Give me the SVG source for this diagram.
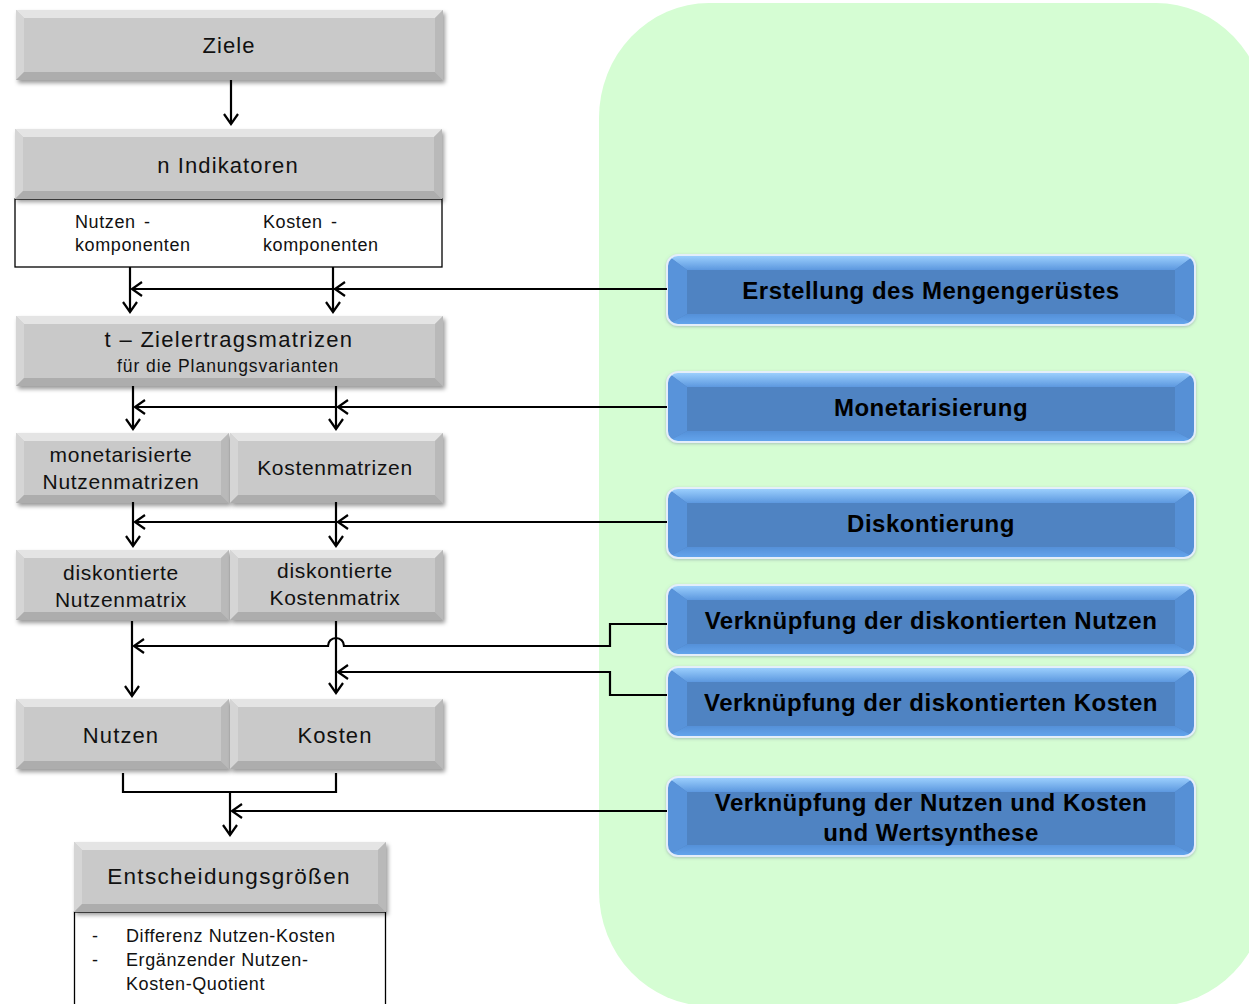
<svg xmlns="http://www.w3.org/2000/svg" xmlns:xlink="http://www.w3.org/1999/xlink" width="1249" height="1004" viewBox="0 0 1249 1004">
<style>
.gbody{fill:#c9c9c9}
.gt{fill:#e4e4e4}
.gl{fill:#d5d5d5}
.gr{fill:#b9b9b9}
.gbt{fill:#adadad}
.bbody{fill:#4f83c2}
.bt{fill:url(#btop)}
.bl{fill:#5993da}
.br{fill:#5690d6}
.bbt{fill:url(#bbot)}
.bedge{fill:none;stroke:#e4eef9;stroke-width:2}
.tx{font-family:"Liberation Sans",Arial,sans-serif;fill:#111}
.big{font-size:22px;letter-spacing:1.1px;text-anchor:middle}
.mid{font-size:21px;letter-spacing:0.7px;text-anchor:middle}
.ttl{font-size:22px;letter-spacing:1.3px;text-anchor:middle}
.ent{font-size:22.5px;letter-spacing:1.3px;text-anchor:middle}
.sm{font-size:18px;letter-spacing:0.6px}
.smc{font-size:17.5px;letter-spacing:0.95px;text-anchor:middle}
.bx{font-family:"Liberation Sans",Arial,sans-serif;font-weight:bold;font-size:24px;letter-spacing:0.5px;text-anchor:middle;fill:#000}
.wbox{fill:#fff;stroke:#000;stroke-width:1.3}
.con{fill:none;stroke:#000;stroke-width:2.2}
.arr{marker-end:url(#chev)}
</style>
<defs>
<marker id="chev" markerUnits="userSpaceOnUse" markerWidth="14" markerHeight="18" viewBox="-12 -9 14 18" refX="0" refY="0" orient="auto">
<path d="M-10,-7 L0,0 L-10,7" fill="none" stroke="#000" stroke-width="2.2"/>
</marker>
<linearGradient id="btop" x1="0" y1="0" x2="0" y2="1"><stop offset="0" stop-color="#9fd2ff"/><stop offset="1" stop-color="#5c98df"/></linearGradient>
<linearGradient id="bbot" x1="0" y1="0" x2="0" y2="1"><stop offset="0" stop-color="#5590d8"/><stop offset="1" stop-color="#64a6ee"/></linearGradient>
<filter id="sh" x="-5%" y="-15%" width="112%" height="140%">
<feDropShadow dx="2" dy="3" stdDeviation="2.2" flood-color="#000" flood-opacity="0.4"/>
</filter>
<filter id="bsh" x="-5%" y="-15%" width="112%" height="140%">
<feDropShadow dx="0" dy="1" stdDeviation="1.5" flood-color="#7a8a99" flood-opacity="0.5"/>
</filter>
<g id="g427">
<rect width="427" height="70" class="gbody"/>
<polygon class="gt" points="0,0 427,0 419,8 8,8"/>
<polygon class="gl" points="0,0 8,8 8,62 0,70"/>
<polygon class="gr" points="427,0 427,70 419,62 419,8"/>
<polygon class="gbt" points="0,70 427,70 419,62 8,62"/>
</g>
<g id="g213">
<rect width="213" height="70" class="gbody"/>
<polygon class="gt" points="0,0 213,0 205,8 8,8"/>
<polygon class="gl" points="0,0 8,8 8,62 0,70"/>
<polygon class="gr" points="213,0 213,70 205,62 205,8"/>
<polygon class="gbt" points="0,70 213,70 205,62 8,62"/>
</g>
<g id="g312">
<rect width="312" height="70" class="gbody"/>
<polygon class="gt" points="0,0 312,0 304,8 8,8"/>
<polygon class="gl" points="0,0 8,8 8,62 0,70"/>
<polygon class="gr" points="312,0 312,70 304,62 304,8"/>
<polygon class="gbt" points="0,70 312,70 304,62 8,62"/>
</g>
<clipPath id="bc70"><rect width="528" height="70" rx="11"/></clipPath>
<clipPath id="bc79"><rect width="528" height="79" rx="11"/></clipPath>
<g id="b70">
<g clip-path="url(#bc70)">
<rect width="528" height="70" class="bbody"/>
<polygon class="bt" points="0,0 528,0 508,15 20,15"/>
<polygon class="bl" points="0,0 20,15 20,59 0,70"/>
<polygon class="br" points="528,0 528,70 508,59 508,15"/>
<polygon class="bbt" points="0,70 528,70 508,59 20,59"/>
</g>
<rect width="528" height="70" rx="11" class="bedge"/>
</g>
<g id="b79">
<g clip-path="url(#bc79)">
<rect width="528" height="79" class="bbody"/>
<polygon class="bt" points="0,0 528,0 508,15 20,15"/>
<polygon class="bl" points="0,0 20,15 20,68 0,79"/>
<polygon class="br" points="528,0 528,79 508,68 508,15"/>
<polygon class="bbt" points="0,79 528,79 508,68 20,68"/>
</g>
<rect width="528" height="79" rx="11" class="bedge"/>
</g>
</defs>

<rect width="1249" height="1004" fill="#fff"/>
<rect id="bereich" x="599" y="3" width="667" height="1003" rx="110" ry="115" fill="#d5fdd3"/>

<g id="ziele">
<use href="#g427" x="16" y="10" filter="url(#sh)"/>
<text class="tx big" x="229" y="53">Ziele</text>
</g>
<g id="indikatoren">
<rect class="wbox" x="15" y="199" width="427" height="68"/>
<use href="#g427" x="15" y="129" filter="url(#sh)"/>
<text class="tx big" x="228" y="173">n Indikatoren</text>
<text class="tx sm" x="75" y="228">Nutzen<tspan x="144">-</tspan></text>
<text class="tx sm" x="75" y="251">komponenten</text>
<text class="tx sm" x="263" y="228">Kosten<tspan x="331">-</tspan></text>
<text class="tx sm" x="263" y="251">komponenten</text>
</g>
<g id="zielertrag">
<use href="#g427" x="16" y="316" filter="url(#sh)"/>
<text class="tx ttl" x="229" y="347">t – Zielertragsmatrizen</text>
<text class="tx smc" x="228" y="372">für die Planungsvarianten</text>
</g>
<g id="mon-nutzen">
<use href="#g213" x="16" y="433" filter="url(#sh)"/>
<text class="tx mid" x="121" y="462">monetarisierte</text>
<text class="tx mid" x="121" y="489">Nutzenmatrizen</text>
</g>
<g id="kostenmatrizen">
<use href="#g213" x="230" y="433" filter="url(#sh)"/>
<text class="tx mid" x="335" y="475">Kostenmatrizen</text>
</g>
<g id="disk-nutzen">
<use href="#g213" x="16" y="550" filter="url(#sh)"/>
<text class="tx mid" x="121" y="580">diskontierte</text>
<text class="tx mid" x="121" y="607">Nutzenmatrix</text>
</g>
<g id="disk-kosten">
<use href="#g213" x="230" y="550" filter="url(#sh)"/>
<text class="tx mid" x="335" y="578">diskontierte</text>
<text class="tx mid" x="335" y="605">Kostenmatrix</text>
</g>
<g id="nutzen">
<use href="#g213" x="16" y="699" filter="url(#sh)"/>
<text class="tx big" x="121" y="743">Nutzen</text>
</g>
<g id="kosten">
<use href="#g213" x="230" y="699" filter="url(#sh)"/>
<text class="tx big" x="335" y="743">Kosten</text>
</g>
<g id="entscheidung">
<rect class="wbox" x="74.5" y="912" width="311" height="100"/>
<use href="#g312" x="74" y="842" filter="url(#sh)"/>
<text class="tx ent" x="229" y="884">Entscheidungsgrößen</text>
<text class="tx sm" x="92" y="942">-</text>
<text class="tx sm" x="126" y="942">Differenz Nutzen-Kosten</text>
<text class="tx sm" x="92" y="966">-</text>
<text class="tx sm" x="126" y="966">Ergänzender Nutzen-</text>
<text class="tx sm" x="126" y="990">Kosten-Quotient</text>
</g>

<g id="erstellung">
<use href="#b70" x="667" y="255" filter="url(#bsh)"/>
<text class="bx" x="931" y="299">Erstellung des Mengengerüstes</text>
</g>
<g id="monetarisierung">
<use href="#b70" x="667" y="372" filter="url(#bsh)"/>
<text class="bx" x="931" y="416">Monetarisierung</text>
</g>
<g id="diskontierung">
<use href="#b70" x="667" y="488" filter="url(#bsh)"/>
<text class="bx" x="931" y="532">Diskontierung</text>
</g>
<g id="verk-nutzen">
<use href="#b70" x="667" y="585" filter="url(#bsh)"/>
<text class="bx" x="931" y="629">Verknüpfung der diskontierten Nutzen</text>
</g>
<g id="verk-kosten">
<use href="#b70" x="667" y="667" filter="url(#bsh)"/>
<text class="bx" x="931" y="711">Verknüpfung der diskontierten Kosten</text>
</g>
<g id="wertsynthese">
<use href="#b79" x="667" y="777" filter="url(#bsh)"/>
<text class="bx" x="931" y="811">Verknüpfung der Nutzen und Kosten</text>
<text class="bx" x="931" y="841">und Wertsynthese</text>
</g>

<g id="connectors">
<path class="con arr" d="M231,80 V124"/>
<path class="con arr" d="M130,267 V312"/>
<path class="con arr" d="M333,267 V312"/>
<path class="con arr" d="M667,289 H335"/>
<path class="con arr" d="M335,289 H132"/>
<path class="con arr" d="M133,386 V429"/>
<path class="con arr" d="M336,386 V429"/>
<path class="con arr" d="M667,407 H338"/>
<path class="con arr" d="M338,407 H135"/>
<path class="con arr" d="M133,502 V546"/>
<path class="con arr" d="M336,502 V546"/>
<path class="con arr" d="M667,522 H338"/>
<path class="con arr" d="M338,522 H135"/>
<path class="con arr" d="M132,621 V696"/>
<path class="con arr" d="M336,621 V693"/>
<path class="con arr" d="M667,624 H610 V646 H344 A8,8 0 0 0 328,646 H134"/>
<path class="con arr" d="M667,695 H610 V672 H338"/>
<path class="con" d="M123,773 V792 H336 V773"/>
<path class="con arr" d="M230,792 V835"/>
<path class="con arr" d="M667,811 H232"/>
</g>
</svg>
